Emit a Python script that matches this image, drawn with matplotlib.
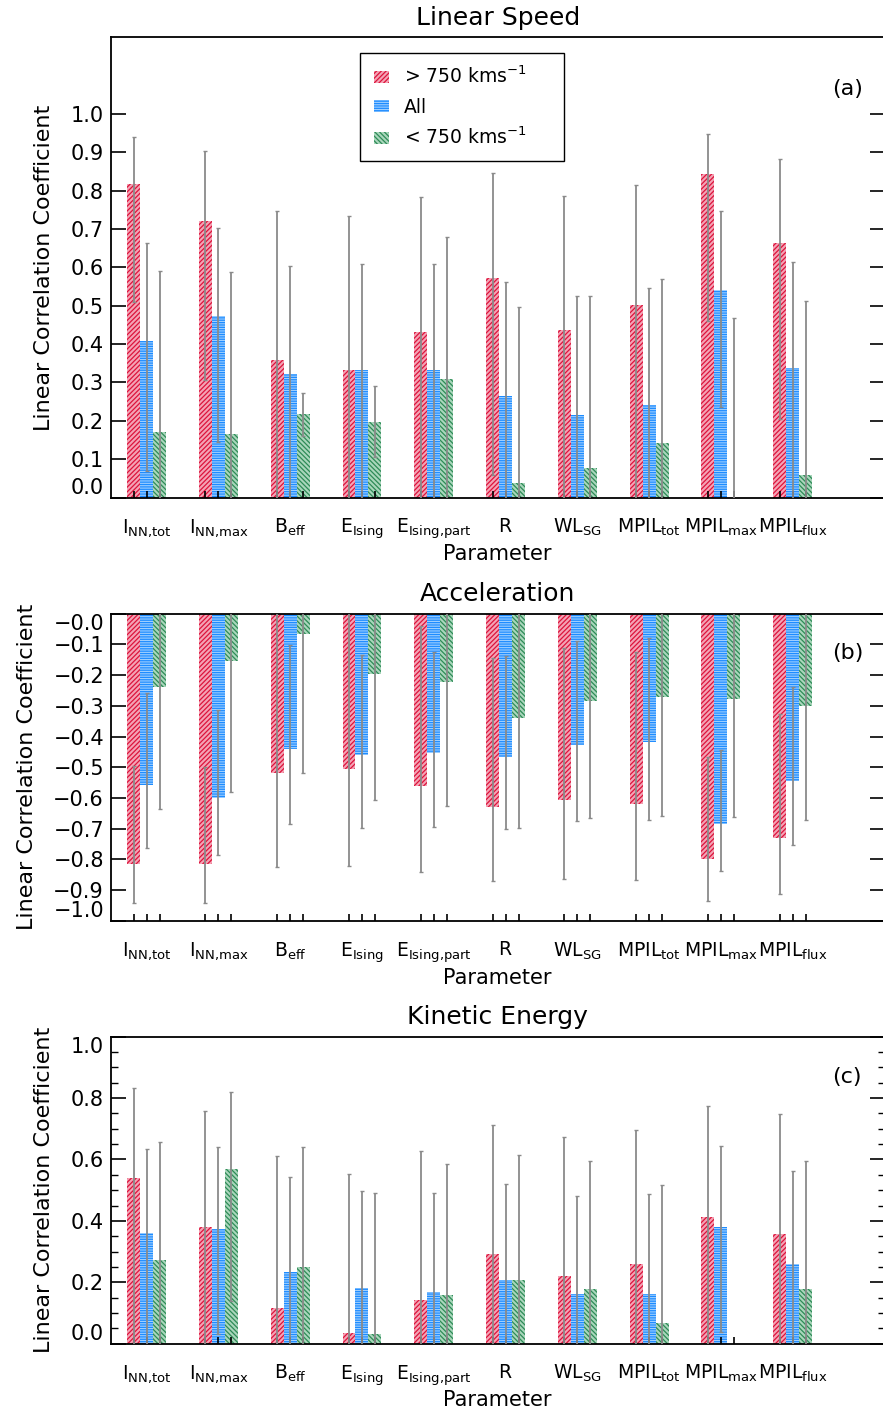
import numpy as np
import matplotlib
matplotlib.use("Agg")
import matplotlib.pyplot as plt
from matplotlib.ticker import FixedLocator

# parameter names (x axis)
params = [r'$\mathregular{I_{NN{,}tot}}$', r'$\mathregular{I_{NN{,}max}}$', r'$\mathregular{B_{eff}}$',
          r'$\mathregular{E_{Ising}}$', r'$\mathregular{E_{Ising{,}part}}$', r'$\mathregular{R}$',
          r'$\mathregular{WL_{SG}}$', r'$\mathregular{MPIL_{tot}}$', r'$\mathregular{MPIL_{max}}$',
          r'$\mathregular{MPIL_{flux}}$']
series_names = [r'> 750 kms$^{\mathregular{-1}}$', 'All', r'< 750 kms$^{\mathregular{-1}}$']
nan = np.nan

# (a) linear speed: value, lower and upper end of error bar
speed_fast = [0.818, 0.720, 0.358, 0.333, 0.432, 0.572, 0.436, 0.502, 0.844, 0.663]
speed_fast_lo = [0.510, 0.306, -0.15, -0.16, -0.05, 0.060, -0.05, -0.02, 0.460, 0.206]
speed_fast_hi = [0.941, 0.904, 0.746, 0.734, 0.783, 0.846, 0.785, 0.816, 0.949, 0.883]
speed_all = [0.408, 0.473, 0.322, 0.333, 0.333, 0.264, 0.215, 0.241, 0.541, 0.337]
speed_all_lo = [0.069, 0.144, -0.02, -0.01, -0.01, -0.08, -0.13, -0.09, 0.236, -0.01]
speed_all_hi = [0.663, 0.703, 0.604, 0.610, 0.608, 0.561, 0.526, 0.545, 0.748, 0.615]
speed_slow = [0.170, 0.165, 0.217, 0.198, 0.309, 0.037, 0.076, 0.141, -0.02, 0.058]
speed_slow_lo = [-0.28, -0.29, 0.161, 0.106, -0.08, -0.44, -0.39, -0.30, -0.50, -0.41]
speed_slow_hi = [0.591, 0.587, 0.273, 0.290, 0.678, 0.496, 0.526, 0.571, 0.467, 0.512]

# (b) acceleration
acc_fast = [-0.814, -0.816, -0.518, -0.505, -0.562, -0.629, -0.607, -0.618, -0.800, -0.731]
acc_fast_lo = [-0.940, -0.941, -0.823, -0.820, -0.842, -0.871, -0.862, -0.867, -0.936, -0.911]
acc_fast_hi = [-0.496, -0.500, 0.05, 0.06, -0.041, -0.144, -0.112, -0.125, -0.465, -0.325]
acc_all = [-0.559, -0.599, -0.440, -0.459, -0.453, -0.466, -0.426, -0.419, -0.686, -0.546]
acc_all_lo = [-0.761, -0.785, -0.684, -0.699, -0.695, -0.701, -0.675, -0.671, -0.838, -0.752]
acc_all_hi = [-0.259, -0.313, -0.103, -0.133, -0.125, -0.139, -0.089, -0.080, -0.445, -0.240]
acc_slow = [-0.240, -0.154, -0.066, -0.195, -0.222, -0.338, -0.284, -0.272, -0.279, -0.301]
acc_slow_lo = [-0.637, -0.581, -0.518, -0.608, -0.626, -0.696, -0.664, -0.657, -0.662, -0.673]
acc_slow_hi = [0.20, 0.30, 0.40, 0.25, 0.20, 0.05, 0.12, 0.14, 0.13, 0.10]

# (c) kinetic energy
ke_fast = [0.539, 0.380, 0.116, 0.035, 0.141, 0.292, 0.219, 0.259, 0.412, 0.356]
ke_fast_lo = [-0.12, -0.05, -0.40, -0.50, -0.36, -0.17, -0.25, -0.20, -0.01, -0.08]
ke_fast_hi = [0.832, 0.759, 0.610, 0.554, 0.627, 0.713, 0.672, 0.695, 0.774, 0.747]
ke_all = [0.361, 0.374, 0.235, 0.181, 0.167, 0.207, 0.161, 0.161, 0.379, 0.260]
ke_all_lo = [-0.04, 0.031, -0.10, -0.16, -0.18, -0.13, -0.18, -0.18, 0.037, -0.06]
ke_all_hi = [0.633, 0.641, 0.542, 0.497, 0.490, 0.519, 0.482, 0.487, 0.644, 0.561]
ke_slow = [0.272, 0.569, 0.249, 0.031, 0.159, 0.207, 0.179, 0.067, nan, 0.177]
ke_slow_lo = [-0.17, 0.140, -0.18, -0.46, -0.29, -0.24, -0.27, -0.40, nan, -0.27]
ke_slow_hi = [0.656, 0.819, 0.642, 0.491, 0.584, 0.616, 0.596, 0.518, nan, 0.596]

plt.rcParams['hatch.linewidth'] = 0.9
plt.rcParams['font.family'] = ['DejaVu Sans']

styles = [dict(facecolor='#f4a3b5', edgecolor='#dc143c', hatch='///////'),
          dict(facecolor='#9fcfff', edgecolor='#1e8cff', hatch='-------'),
          dict(facecolor='#a9d6bb', edgecolor='#2e8b57', hatch='\\\\\\\\\\\\\\')]
width = 0.181
offsets = [-width, 0.0, width]


def draw_panel(ax, data, title, tag, tag_y):
    x = np.arange(len(params))
    bars = []
    for (vals, lo, hi), off, st in zip(data, offsets, styles):
        vals = np.array(vals, dtype=float)
        lo = np.array(lo, dtype=float)
        hi = np.array(hi, dtype=float)
        b = ax.bar(x + off, vals, width, linewidth=0, zorder=1, **st)
        bars.append(b)
        ax.errorbar(x + off, vals, yerr=[vals - lo, hi - vals], fmt='none',
                    ecolor='#8a8a8a', elinewidth=1.3, capsize=1.5, capthick=1.0, zorder=3)

    ax.set_xlim(-0.497, 10.28)
    ax.set_xticks(x)
    ax.set_xticklabels(params, fontsize=13.5)
    ax.xaxis.set_minor_locator(FixedLocator(np.concatenate([x - width, x, x + width])))
    ax.xaxis.remove_overlapping_locs = False
    ax.tick_params(axis='x', which='major', length=0, pad=14)
    ax.tick_params(axis='x', which='minor', direction='in', length=5, width=1.2, top=False)
    ax.tick_params(axis='y', which='both', direction='in', left=True, right=True, labelsize=15, pad=5)
    ax.tick_params(axis='y', which='major', length=11, width=1.2)
    ax.tick_params(axis='y', which='minor', length=5, width=1.0)

    ax.set_title(title, fontsize=18, pad=9)
    ax.set_xlabel('Parameter', fontsize=15, labelpad=2)
    ax.set_ylabel('Linear Correlation Coefficient', fontsize=16, labelpad=12)
    ax.text(0.952, tag_y, tag, transform=ax.transAxes, ha='center', va='center', fontsize=16)
    for sp in ax.spines.values():
        sp.set_linewidth(1.3)
    return bars


fig = plt.figure(figsize=(8.83, 14.11), dpi=100)

ax1 = fig.add_axes([0.1257, 0.6474, 0.876, 0.3262])
bars = draw_panel(ax1, [(speed_fast, speed_fast_lo, speed_fast_hi),
                        (speed_all, speed_all_lo, speed_all_hi),
                        (speed_slow, speed_slow_lo, speed_slow_hi)], 'Linear Speed', '(a)', 0.888)
ax1.set_ylim(0, 1.2)
ax1.set_yticks(np.arange(0, 1.01, 0.1))
ax1.set_yticklabels(['%.1f' % v for v in np.arange(0, 1.01, 0.1)])
ax1.get_yticklabels()[0].set_va('bottom')
leg = ax1.legend(bars, series_names, loc='upper left', bbox_to_anchor=(0.3225, 0.7327, 0.263, 0.2339),
                 mode='expand', fontsize=13.5, frameon=True, fancybox=False, framealpha=1,
                 edgecolor='black', handlelength=0.8, handleheight=0.6, handletextpad=0.8,
                 borderpad=0.7, labelspacing=0.55, borderaxespad=0)
leg.get_frame().set_linewidth(1.0)

ax2 = fig.add_axes([0.1257, 0.3473, 0.876, 0.2178])
draw_panel(ax2, [(acc_fast, acc_fast_lo, acc_fast_hi),
                 (acc_all, acc_all_lo, acc_all_hi),
                 (acc_slow, acc_slow_lo, acc_slow_hi)], 'Acceleration', '(b)', 0.872)
ax2.set_ylim(-1.0, 0.0)
yt = np.arange(0, 11) * -0.1
ax2.set_yticks(yt)
ax2.set_yticklabels(['\u2212%.1f' % abs(v) for v in yt])
ax2.get_yticklabels()[0].set_va('top')
ax2.get_yticklabels()[-1].set_va('bottom')

ax3 = fig.add_axes([0.1257, 0.0477, 0.876, 0.2176])
draw_panel(ax3, [(ke_fast, ke_fast_lo, ke_fast_hi),
                 (ke_all, ke_all_lo, ke_all_hi),
                 (ke_slow, ke_slow_lo, ke_slow_hi)], 'Kinetic Energy', '(c)', 0.869)
ax3.set_ylim(0, 1.0)
ax3.set_yticks(np.arange(0, 1.01, 0.2))
ax3.set_yticklabels(['%.1f' % v for v in np.arange(0, 1.01, 0.2)])
ax3.yaxis.set_minor_locator(FixedLocator(np.arange(0, 1.001, 0.05)))
ax3.get_yticklabels()[0].set_va('bottom')
ax3.get_yticklabels()[-1].set_va('top')

fig.savefig('out.png', dpi=100)
